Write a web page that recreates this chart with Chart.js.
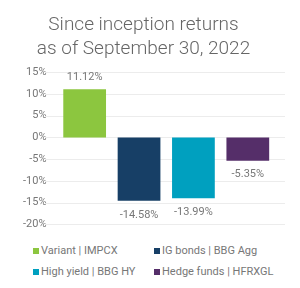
<!DOCTYPE html>
<html lang="en">
<head>
    <meta charset="UTF-8">
    <title>Since inception returns</title>
    <script src="https://cdn.jsdelivr.net/npm/chart.js"></script>
    <style>
        body {
            margin: 0;
            background: #ffffff;
            font-family: "Roboto", sans-serif;
        }

        #wrap {
            position: relative;
            width: 300px;
            height: 288px;
        }

        #chart-box {
            position: absolute;
            left: 0;
            top: 0;
            width: 300px;
            height: 242px;
        }

        #legend {
            position: absolute;
            left: 33px;
            top: 244px;
            display: grid;
            grid-template-columns: 121px 130px;
            row-gap: 8px;
            font-size: 11px;
            color: #777;
        }

        .item {
            display: flex;
            align-items: center;
            height: 13px;
            white-space: nowrap;
        }

        .swatch {
            width: 6px;
            height: 6px;
            margin-right: 2px;
        }
    </style>
</head>
<body>
    <div id="wrap">
        <div id="chart-box">
            <canvas id="chart"></canvas>
        </div>
        <div id="legend"></div>
    </div>

    <script>
        // data
        const seriesNames = ["Variant | IMPCX", "IG bonds | BBG Agg", "High yield | BBG HY", "Hedge funds | HFRXGL"];
        const returns = [11.12, -14.58, -13.99, -5.35];
        const barColors = ["#8cc63f", "#173f66", "#00a0bf", "#552e69"];
        const titleLines = ["Since inception returns", "as of September 30, 2022"];

        // horizontal grid lines run a bit wider than the bars
        const gridPlugin = {
            id: "wideGrid",
            beforeDatasetsDraw(chart) {
                const ctx = chart.ctx;
                const y = chart.scales.y;
                ctx.save();
                ctx.strokeStyle = "#ececec";
                ctx.lineWidth = 1;
                y.ticks.forEach(t => {
                    const py = Math.round(y.getPixelForValue(t.value)) + 0.5;
                    ctx.beginPath();
                    ctx.moveTo(45, py);
                    ctx.lineTo(285, py);
                    ctx.stroke();
                });
                ctx.restore();
            }
        };

        // value labels above / below each bar
        const valuePlugin = {
            id: "valueLabels",
            afterDatasetsDraw(chart) {
                const ctx = chart.ctx;
                ctx.save();
                ctx.font = "11px Roboto";
                ctx.fillStyle = "#777";
                ctx.textAlign = "center";
                ctx.textBaseline = "middle";
                chart.getDatasetMeta(0).data.forEach((bar, i) => {
                    const v = returns[i];
                    const py = v >= 0 ? bar.y - 12 : bar.y + 14;
                    ctx.fillText(v.toFixed(2) + "%", bar.x, py);
                });
                ctx.restore();
            }
        };

        const chart = new Chart(document.getElementById("chart"), {
            type: "bar",
            data: {
                labels: seriesNames,
                datasets: [{
                    data: returns,
                    backgroundColor: barColors,
                    barPercentage: 0.786,
                    categoryPercentage: 1
                }]
            },
            options: {
                responsive: true,
                maintainAspectRatio: false,
                animation: false,
                layout: {
                    padding: { left: 12, right: 25, top: 13, bottom: 0 }
                },
                plugins: {
                    legend: { display: false },
                    tooltip: { enabled: false },
                    title: {
                        display: true,
                        text: titleLines,
                        color: "#666",
                        font: { family: "Roboto", size: 19, weight: 300, lineHeight: 1.27 },
                        padding: { top: 0, bottom: 11 }
                    }
                },
                scales: {
                    x: { display: false },
                    y: {
                        min: -20,
                        max: 15,
                        ticks: {
                            stepSize: 5,
                            padding: 11,
                            color: "#777",
                            font: { family: "Roboto", size: 11 },
                            callback: v => v + "%"
                        },
                        grid: { display: false, drawTicks: false },
                        border: { display: false }
                    }
                }
            },
            plugins: [gridPlugin, valuePlugin]
        });

        // legend laid out as a 2x2 grid
        const legend = document.getElementById("legend");
        seriesNames.forEach((name, i) => {
            const item = document.createElement("div");
            item.className = "item";
            const sw = document.createElement("span");
            sw.className = "swatch";
            sw.style.background = barColors[i];
            item.appendChild(sw);
            item.appendChild(document.createTextNode(name));
            legend.appendChild(item);
        });
    </script>
</body>
</html>
